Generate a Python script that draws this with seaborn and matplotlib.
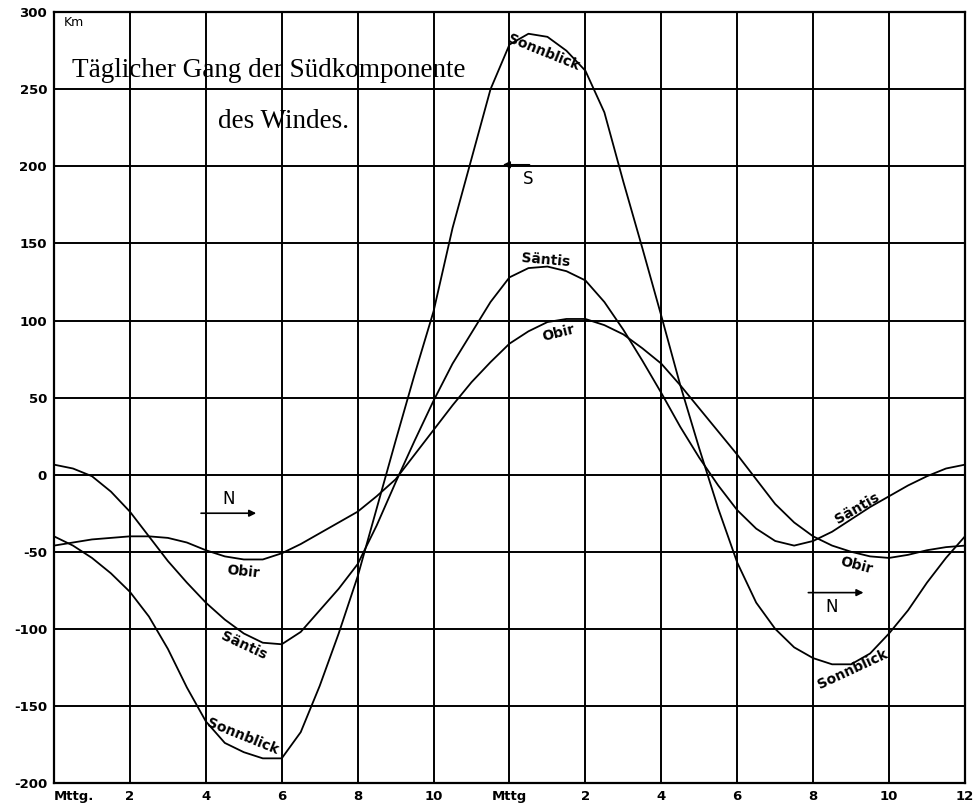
import numpy as np
import pandas as pd
import seaborn as sns
import matplotlib.pyplot as plt

# Stunden ab Mittag (0 = Mttg., 12 = Mitternacht/Mttg, 24 = Mittag)
stunden = [i * 0.5 for i in range(49)]

sonnblick = [-40, -46, -54, -64, -76, -92, -113, -138, -160, -174,
             -180, -184, -184, -167, -137, -103, -66, -22, 22, 65,
             106, 160, 205, 250, 279, 286, 284, 275, 262, 235,
             190, 147, 103, 58, 17, -22, -57, -83, -100, -112,
             -119, -123, -123, -116, -103, -88, -70, -54, -40]

saentis = [6.5, 4, -1, -11, -24, -40, -56, -70, -83, -94,
           -103, -109, -110, -102, -88, -74, -58, -33, -5, 22,
           48, 72, 92, 112, 128, 134, 135, 132, 126, 112,
           94, 74, 53, 31, 11, -7, -23, -35, -43, -46,
           -43, -37, -29, -21, -14, -7, -1, 4, 6.5]

obir = [-46, -44, -42, -41, -40, -40, -41, -44, -49, -53,
        -55, -55, -51, -45, -38, -31, -24, -14, -3, 13,
        29, 45, 60, 73, 85, 93, 99, 101, 101, 97,
        91, 82, 72, 58, 43, 28, 13, -3, -19, -31,
        -40, -46, -50, -53, -54, -52, -49, -47, -46]

x_ticks = [0, 2, 4, 6, 8, 10, 12, 14, 16, 18, 20, 22, 24]
x_labels = ["Mttg.", "2", "4", "6", "8", "10", "Mttg", "2", "4", "6", "8", "10", "12"]
y_ticks = [-200, -150, -100, -50, 0, 50, 100, 150, 200, 250, 300]

df = pd.DataFrame({
    "stunde": stunden * 3,
    "wert": sonnblick + saentis + obir,
    "station": ["Sonnblick"] * 49 + ["Säntis"] * 49 + ["Obir"] * 49,
})

sns.set_style("white")
plt.rcParams['font.family'] = ['DejaVu Sans']
plt.rcParams['text.color'] = 'black'
plt.rcParams['xtick.color'] = 'black'
plt.rcParams['ytick.color'] = 'black'

fig = plt.figure(figsize=(9.75, 8.11), dpi=100)
ax = fig.add_axes([0.0554, 0.0345, 0.9343, 0.9505])

sns.lineplot(data=df, x="stunde", y="wert", hue="station",
             palette=["black", "black", "black"], linewidth=1.3,
             legend=False, ax=ax, sort=True)

ax.set_xlim(0, 24)
ax.set_ylim(-200, 300)
ax.set_xticks(x_ticks)
ax.set_xticklabels(x_labels, fontsize=9.5, fontweight="bold", color="black")
ax.set_yticks(y_ticks)
ax.set_yticklabels([str(v) for v in y_ticks], fontsize=9.5, fontweight="bold", color="black")
ax.tick_params(length=0, pad=5)
ax.get_xticklabels()[0].set_ha("left")
ax.set_xlabel("")
ax.set_ylabel("")
ax.grid(True, color="black", linewidth=1.4)
for s in ax.spines.values():
    s.set_color("black")
    s.set_linewidth(1.6)

# Titel
ax.text(5.67, 262, "Täglicher Gang der Südkomponente", ha="center", va="center",
        fontsize=19.5, family="Liberation Serif", color="black")
ax.text(6.04, 229, "des Windes.", ha="center", va="center",
        fontsize=19.5, family="Liberation Serif", color="black")
ax.text(0.25, 293, "Km", ha="left", va="center", fontsize=9, color="black")

# Pfeile
ax.annotate("", xy=(11.75, 201), xytext=(12.6, 201),
            arrowprops=dict(arrowstyle="-|>", color="black", lw=1.2))
ax.text(12.5, 192, "S", ha="center", va="center", fontsize=12, color="black")
ax.annotate("", xy=(5.4, -25), xytext=(3.8, -25),
            arrowprops=dict(arrowstyle="-|>", color="black", lw=1.2))
ax.text(4.6, -16, "N", ha="center", va="center", fontsize=12, color="black")
ax.annotate("", xy=(21.4, -76.5), xytext=(19.8, -76.5),
            arrowprops=dict(arrowstyle="-|>", color="black", lw=1.2))
ax.text(20.5, -86, "N", ha="center", va="center", fontsize=12, color="black")

# Kurvenbeschriftungen
labels = [
    ("Sonnblick", 12.9, 274, -22),
    ("Säntis", 12.95, 139, -5),
    ("Obir", 13.3, 92, 14),
    ("Obir", 4.98, -63, -6),
    ("Säntis", 5.0, -111, -25),
    ("Sonnblick", 4.98, -170, -22),
    ("Säntis", 21.15, -22, 30),
    ("Obir", 21.15, -59, -15),
    ("Sonnblick", 21.05, -126, 25),
]
for txt, xx, yy, rot in labels:
    ax.text(xx, yy, txt, ha="center", va="center", fontsize=10,
            fontweight="bold", rotation=rot, color="black")

fig.savefig("out.png", dpi=100)
